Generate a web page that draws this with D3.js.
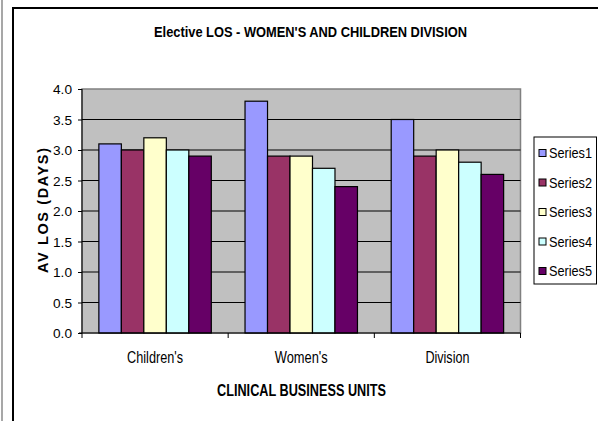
<!DOCTYPE html>
<html>
<head>
<meta charset="utf-8">
<script src="https://cdn.jsdelivr.net/npm/d3@7"></script>
<style>
  html, body { margin: 0; padding: 0; background: #fff; }
  svg { display: block; font-family: "Liberation Sans", Arial, sans-serif; }
</style>
</head>
<body>
<svg id="chart" width="598" height="421"></svg>
<script>
// Chart data
const categories = ["Children's", "Women's", "Division"];
const seriesNames = ["Series1", "Series2", "Series3", "Series4", "Series5"];
const series1 = [3.1, 3.8, 3.5];
const series2 = [3.0, 2.9, 2.9];
const series3 = [3.2, 2.9, 3.0];
const series4 = [3.0, 2.7, 2.8];
const series5 = [2.9, 2.4, 2.6];
const yTicks = [0, 0.5, 1.0, 1.5, 2.0, 2.5, 3.0, 3.5, 4.0];
const seriesColors = ["#9999FF", "#993366", "#FFFFCC", "#CCFFFF", "#660066"];

const allSeries = [series1, series2, series3, series4, series5];

const svg = d3.select("#chart");

// Outer chart frame
svg.append("line").attr("x1", 2).attr("x2", 2).attr("y1", 0).attr("y2", 421)
  .attr("stroke", "#8a8a8a").attr("stroke-width", 1.5);
svg.append("line").attr("x1", 13).attr("x2", 13).attr("y1", 7).attr("y2", 421)
  .attr("stroke", "#000").attr("stroke-width", 2);
svg.append("line").attr("x1", 12).attr("x2", 598).attr("y1", 8).attr("y2", 8)
  .attr("stroke", "#000").attr("stroke-width", 2);

// Plot area
const plot = { left: 82, right: 520.5, top: 89, bottom: 333 };

const x0 = d3.scaleBand().domain(categories).range([plot.left, plot.right]).padding(0);
const gapWidth = 1.5; // gap between clusters, as a fraction of one bar width
const barW = x0.bandwidth() / (seriesNames.length + gapWidth);
const x1 = d3.scaleBand().domain(seriesNames)
  .range([barW * gapWidth / 2, x0.bandwidth() - barW * gapWidth / 2]).padding(0);
const y = d3.scaleLinear().domain([0, 4]).range([plot.bottom, plot.top]);

svg.append("rect")
  .attr("x", plot.left).attr("y", plot.top)
  .attr("width", plot.right - plot.left).attr("height", plot.bottom - plot.top)
  .attr("fill", "#C0C0C0").attr("stroke", "#808080").attr("stroke-width", 1.5);

// Gridlines
svg.append("g").selectAll("line").data(yTicks.filter(t => t > 0 && t < 4)).join("line")
  .attr("x1", plot.left).attr("x2", plot.right)
  .attr("y1", d => y(d)).attr("y2", d => y(d))
  .attr("stroke", "#000").attr("stroke-width", 1);

// Bars
const rows = categories.map((c, i) => ({ cat: c, vals: allSeries.map(s => s[i]) }));
const groups = svg.append("g").selectAll("g").data(rows).join("g")
  .attr("transform", d => `translate(${x0(d.cat)},0)`);
groups.selectAll("rect").data(d => d.vals.map((v, k) => ({ name: seriesNames[k], v, k }))).join("rect")
  .attr("x", d => x1(d.name))
  .attr("y", d => y(d.v))
  .attr("width", x1.bandwidth())
  .attr("height", d => y(0) - y(d.v))
  .attr("fill", d => seriesColors[d.k])
  .attr("stroke", "#000").attr("stroke-width", 1.2);

// Y axis
const yAxis = svg.append("g").attr("transform", `translate(${plot.left},0)`)
  .call(d3.axisLeft(y).tickValues(yTicks).tickFormat(d3.format(".1f")).tickSize(4).tickPadding(6));
yAxis.select(".domain").attr("stroke", "#000").attr("d", `M0,${plot.top}V${plot.bottom}`);
yAxis.selectAll(".tick line").attr("stroke", "#000");
yAxis.selectAll(".tick text")
  .attr("font-size", 13).attr("fill", "#000")
  .attr("font-family", "Liberation Sans, Arial, sans-serif")
  .attr("textLength", 19).attr("lengthAdjust", "spacingAndGlyphs")
  .attr("dy", "0.36em");

// X axis
const xAxis = svg.append("g").attr("transform", `translate(0,${plot.bottom})`);
xAxis.append("line").attr("x1", plot.left - 3).attr("x2", plot.right)
  .attr("y1", 0).attr("y2", 0).attr("stroke", "#000").attr("stroke-width", 1.2);
const xTickPos = categories.map(c => x0(c)).concat([x0(categories[categories.length - 1]) + x0.bandwidth()]);
xAxis.selectAll("line.tk").data(xTickPos).join("line").attr("class", "tk")
  .attr("x1", d => d).attr("x2", d => d).attr("y1", 0).attr("y2", 5)
  .attr("stroke", "#000");
const catWidths = { "Children's": 56, "Women's": 53, "Division": 44 };
xAxis.selectAll("text").data(categories).join("text")
  .attr("x", d => x0(d) + x0.bandwidth() / 2)
  .attr("y", 29.5)
  .attr("text-anchor", "middle")
  .attr("font-size", 16)
  .attr("textLength", d => catWidths[d]).attr("lengthAdjust", "spacingAndGlyphs")
  .text(d => d);

// Titles
svg.append("text")
  .attr("x", 310.5).attr("y", 37).attr("text-anchor", "middle")
  .attr("font-size", 15).attr("font-weight", "bold")
  .attr("textLength", 313).attr("lengthAdjust", "spacingAndGlyphs")
  .text("Elective LOS - WOMEN'S AND CHILDREN DIVISION");

svg.append("text")
  .attr("x", 301.5).attr("y", 395.5).attr("text-anchor", "middle")
  .attr("font-size", 17).attr("font-weight", "bold")
  .attr("textLength", 169).attr("lengthAdjust", "spacingAndGlyphs")
  .text("CLINICAL BUSINESS UNITS");

svg.append("text")
  .attr("transform", "translate(48,210.5) rotate(-90)")
  .attr("text-anchor", "middle")
  .attr("font-size", 14.5).attr("font-weight", "bold")
  .attr("textLength", 125).attr("lengthAdjust", "spacing")
  .text("AV LOS (DAYS)");

// Legend
const legend = svg.append("g");
legend.append("rect").attr("x", 534).attr("y", 137).attr("width", 62.5).attr("height", 147)
  .attr("fill", "#fff").attr("stroke", "#000").attr("stroke-width", 1);
const legendItems = legend.selectAll("g.item").data(seriesNames).join("g").attr("class", "item")
  .attr("transform", (d, i) => `translate(539,${153 + i * 29.5})`);
legendItems.append("rect").attr("x", 0).attr("y", -3.5).attr("width", 7).attr("height", 7)
  .attr("fill", (d, i) => seriesColors[i]).attr("stroke", "#000").attr("stroke-width", 1);
legendItems.append("text").attr("x", 10).attr("y", 0).attr("dy", "0.36em")
  .attr("font-size", 14)
  .attr("textLength", 43).attr("lengthAdjust", "spacingAndGlyphs")
  .text(d => d);
</script>
</body>
</html>
